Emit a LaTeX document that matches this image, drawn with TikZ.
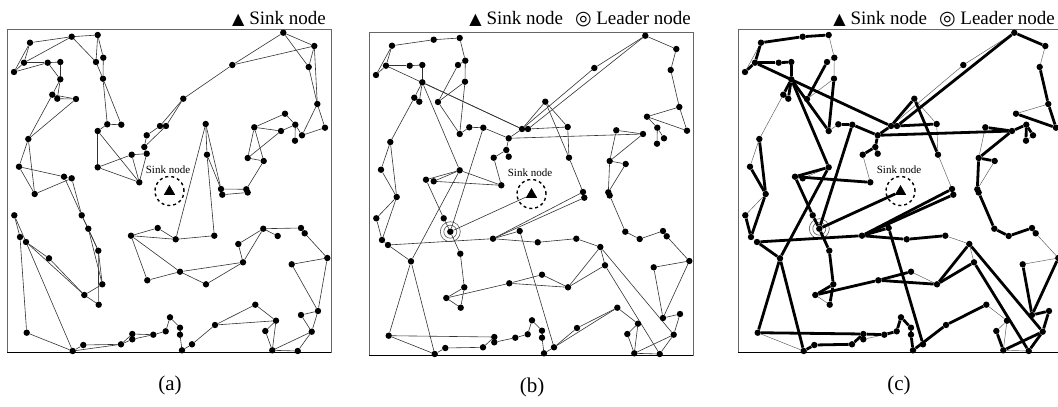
\documentclass[tikz,border=0pt]{standalone}
\usepackage{fontspec}
\setmainfont{Liberation Serif}
\newfontfamily\symfont{DejaVu Sans}
\usepackage{tikz}
\usetikzlibrary{shapes.geometric}
\pgfdeclarelayer{nodelayer}
\pgfdeclarelayer{edgelayer}
\pgfsetlayers{edgelayer,nodelayer,main}
\tikzset{dot/.style={fill=black, circle, inner sep=0pt, minimum size=6.4pt}}
\tikzset{sink/.style={regular polygon, regular polygon sides=3, fill=black, inner sep=0pt, minimum size=13pt}}
\tikzset{wire/.style={draw=black!80, line width=0.6pt}}
\tikzset{bold wire/.style={draw=black, line width=2.8pt}}
\tikzset{frame/.style={draw=black!60, line width=0.8pt}}
\tikzset{ring/.style={draw=black!65, line width=0.6pt}}
\tikzstyle{none}=[inner sep=0pt]
% sensor positions, pixel grid of panel (a)
\newcommand{\sensors}{1/30/42.7, 2/71.7/36.7, 3/97.7/35, 4/24/62.7, 5/14/72, 6/47.7/62.7, 7/60.3/62, 8/96/62, 9/103.3/57.7, 10/60.3/79.3, 11/103/78.7, 12/52.3/94.7, 13/57.3/98.7, 14/76/99, 15/107.3/124.3, 16/121.3/124.7, 17/97.7/131, 18/160/126, 19/166/126, 20/146.7/135.3, 21/144.3/147, 22/131.7/154.7, 23/146.7/153.7, 24/97.7/167.3, 25/139.3/182.3, 26/28.3/139, 27/19/166.7, 28/64/176.7, 29/71.7/178.3, 30/34.7/194, 31/283.3/32.7, 32/314.3/46, 33/232.3/65, 34/308.7/67, 35/183.3/98.7, 36/317.3/104, 37/205.7/124, 38/285/113.7, 39/254.3/127.3, 40/281/131, 41/295.3/124.7, 42/325/127.7, 43/302/135.3, 44/295/140.7, 45/207/154.7, 46/247.7/158, 47/263.7/161, 48/221/189, 49/222.3/194.7, 50/246.3/189.3, 51/247.7/192.5, 52/14.3/215.3, 53/81.7/215.3, 54/88.3/228.7, 55/20/237, 56/26/242, 57/49/258.3, 58/98.3/250.7, 59/102.3/284.3, 60/84.3/295, 61/98.7/304.7, 62/26.7/332.7, 63/72.7/351, 64/83.3/345, 65/121/344.3, 66/132.3/334, 67/132.3/339.3, 68/153.3/334.7, 69/165.7/331.3, 70/170/317.3, 71/131/235.7, 72/157.7/228, 73/175.7/239.3, 74/147.3/280.3, 75/180/271.7, 76/214.3/235.7, 77/263.3/228.7, 78/277.7/236, 79/301/228, 80/304.7/233.3, 81/238.3/244, 82/243/262.3, 83/206/284.3, 84/291.7/264.3, 85/327.3/258, 86/255.3/304.7, 87/276/320.7, 88/215/325, 89/265.3/331, 90/301/315, 91/318/311, 92/311.7/331.7, 93/272.3/350.3, 94/297.7/351, 95/180/327.7, 96/180/334.7, 97/192/344.3, 98/182/350.3}

\begin{document}
\begin{tikzpicture}[x=1pt, y=-1pt]
    \useasboundingbox (0,0) rectangle (1058,407);
    \begin{pgfonlayer}{nodelayer}
        \foreach \p/\dx/\dy in {a/0/0, b/362/3, c/731/0} {
            \foreach \n/\x/\y in \sensors
                \node [dot] (\p\n) at (\x+\dx, \y+\dy) {};
            \node [sink] (sink\p) at (169.5+\dx, 191.5+\dy) {};
            \node [none, font=\fontsize{11}{13}\selectfont] (tag\p) at (168+\dx, 169.5+\dy) {Sink node};
        }
        \node [none, anchor=base east, font=\fontsize{19}{22}\selectfont] (keya) at (326, 24) {{\symfont\fontsize{16}{18}\selectfont ▲} Sink node};
        \node [none, anchor=base east, font=\fontsize{19}{22}\selectfont] (keyb) at (691, 24) {{\symfont\fontsize{16}{18}\selectfont ▲} Sink node\hspace{12pt}{\symfont\fontsize{19}{22}\selectfont ◎} Leader node};
        \node [none, anchor=base east, font=\fontsize{19}{22}\selectfont] (keyc) at (1055, 24) {{\symfont\fontsize{16}{18}\selectfont ▲} Sink node\hspace{12pt}{\symfont\fontsize{19}{22}\selectfont ◎} Leader node};
        \node [none, font=\fontsize{21}{25}\selectfont] (capa) at (170, 385) {(a)};
        \node [none, font=\fontsize{21}{25}\selectfont] (capb) at (532, 387) {(b)};
        \node [none, font=\fontsize{21}{25}\selectfont] (capc) at (899, 385) {(c)};
    \end{pgfonlayer}
    \begin{pgfonlayer}{edgelayer}
        % panel frames and the circle round each sink
        \foreach \p/\dx/\dy in {a/0/0, b/362/3, c/731/0} {
            \draw [frame] (7.3+\dx, 29.3+\dy) rectangle (331+\dx, 352+\dy);
            \draw [line width=1pt] (7.3+\dx, 352+\dy) -- (331+\dx, 352+\dy);
            \draw [dashed, line width=1.4pt] (sink\p.center) ++(0,-0.5) circle (14.5pt);
        }
        \foreach \p in {b, c} {
            \draw [ring] (\p54) circle (10pt);
            \draw [ring] (\p54) circle (6.5pt);
        }
        % (a)
        \foreach \u/\v in {1/2,1/4,1/5,4/5,2/4,2/3,2/8,3/8,3/9,4/6,5/6,6/7,6/10,7/10,10/12,10/13,12/14,13/14,12/26,14/26,26/27,26/30,27/28,27/30,28/29,29/30,8/11,9/11,11/15,11/16,15/16,15/17,17/24,17/25,22/24,24/25,22/25,23/25,22/23,21/23,20/21,18/20,19/21,18/35,19/35,33/35,31/33,32/33,31/32,31/34,32/34,34/36,32/36,36/42,36/43,42/43,38/41,38/39,39/40,40/41,41/43,41/44,39/46,39/47,40/46,46/47,47/50,48/50,49/51,45/48,37/45,37/48,37/73,45/76,28/53,29/53,53/54,53/58,54/58,54/59,58/59,58/61,59/60,60/61,56/60,57/60,56/57,52/56,52/55,55/62,56/63,62/63,63/64,64/65,63/65,65/66,65/67,66/68,67/68,68/69,69/70,70/95,71/72,72/73,71/73,71/75,71/74,74/75,73/76,75/82,75/83,82/83,81/82,77/81,77/82,77/78,77/79,79/80,80/85,84/85,85/91,84/91,90/91,90/92,91/92,92/93,92/94,93/94,89/93,87/89,87/93,86/87,86/88,87/88,88/97,97/98,96/98,95/96}
            \draw [wire] (a\u) to (a\v);
        % (b)
        \foreach \u/\v in {1/2,2/3,3/9,8/9,8/14,11/14,9/11,11/17,14/17,15/17,15/16,1/4,4/5,1/5,4/6,6/7,4/18,7/10,10/13,12/13,10/12,12/26,26/27,27/30,26/30,10/24,10/18,16/20,18/20,20/21,21/22,21/23,22/25,24/28,24/29,25/29,24/25,16/54,24/57,28/53,53/54,31/32,32/34,34/36,36/42,36/38,38/42,38/41,41/43,41/44,39/40,39/46,40/46,46/47,47/50,46/50,20/40,19/37,18/35,31/33,18/33,19/31,35/37,35/45,37/45,45/48,48/71,49/71,30/52,30/55,52/55,55/56,56/71,71/73,56/57,57/62,57/63,62/63,62/66,63/64,64/65,65/66,66/67,67/68,68/69,69/70,70/95,95/96,96/98,54/58,58/59,59/60,60/61,59/61,60/74,74/75,74/83,71/72,72/97,73/76,76/81,81/83,81/82,82/83,75/83,81/92,82/94,51/77,77/78,78/79,79/80,80/85,84/85,84/90,85/90,90/91,91/92,92/93,92/94,93/94,89/93,87/89,87/93,86/87,86/88,88/97,86/97,97/98}
            \draw [wire] (b\u) to (b\v);
        \draw [wire] (b54) to (sinkb);
        % (c) thin links first, bold links over them
        \foreach \u/\v in {3/9,1/5,9/11,11/14,14/17,8/9,22/25,24/29,25/29,26/27,12/26,32/34,36/38,31/33,18/33,35/37,37/45,39/46,47/50,45/48,30/52,62/63,60/61,76/81,81/82,75/83,80/85,84/85,93/94,87/89,86/87,87/93,88/97,97/98,43/44,15/17,66/67,67/68}
            \draw [wire, draw=black!65, line width=0.45pt] (c\u) to (c\v);
        \foreach \u/\v in {1/2,2/3,1/4,4/5,4/6,6/7,4/18,7/10,10/13,12/13,10/12,10/17,10/24,8/14,11/17,15/16,16/20,18/20,20/21,21/22,21/23,24/28,25/28,16/54,24/57,28/53,26/30,27/30,31/32,34/36,36/42,38/42,41/43,41/44,40/41,19/31,18/35,35/45,19/37,20/40,39/40,40/46,46/47,46/50,48/71,49/71,52/55,30/55,56/71,71/73,56/57,57/62,57/63,62/66,63/64,64/65,65/66,66/68,68/69,69/70,54/58,58/59,59/60,59/61,60/74,74/75,74/83,71/72,72/97,73/76,81/83,82/83,81/92,82/94,51/77,77/78,78/79,79/80,84/90,85/90,90/91,91/92,92/93,92/94,89/93,86/88,88/98,95/96,96/98,53/54,70/95}
            \draw [bold wire] (c\u) to (c\v);
        \draw [bold wire] (c54) to (sinkc);
    \end{pgfonlayer}
\end{tikzpicture}
\end{document}
